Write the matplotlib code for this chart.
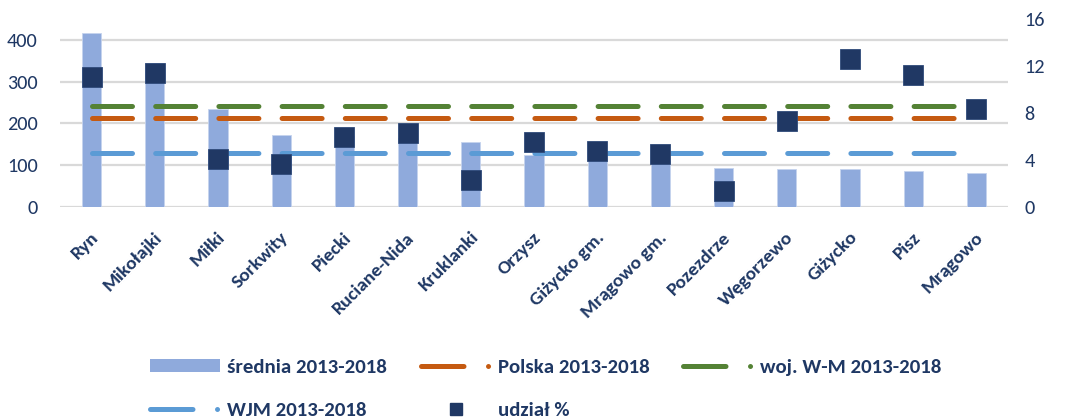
import matplotlib
matplotlib.use('Agg')
import matplotlib.pyplot as plt
from matplotlib.lines import Line2D
from matplotlib.patches import Patch
import matplotlib.transforms as mtransforms

# ---- data ----
categories = ["Ryn", "Mikołajki", "Miłki", "Sorkwity", "Piecki", "Ruciane-Nida",
              "Kruklanki", "Orzysz", "Giżycko gm.", "Mrągowo gm.", "Pozezdrze",
              "Węgorzewo", "Giżycko", "Pisz", "Mrągowo"]
srednia = [416, 344, 234, 173, 169, 166, 155, 125, 118, 110, 93, 90, 90, 85, 81]
udzial = [11.1, 11.4, 4.1, 3.7, 6.0, 6.3, 2.3, 5.5, 4.8, 4.5, 1.4, 7.3, 12.6, 11.2, 8.3]
polska_value = 212
woj_wm_value = 241
wjm_value = 129
left_ticks = [0, 100, 200, 300, 400]
right_ticks = [0, 4, 8, 12, 16]
legend_labels = ["średnia 2013-2018", "Polska 2013-2018", "woj. W-M 2013-2018",
                 "WJM 2013-2018", "udział %"]

# ---- styles ----
NAVY = '#1F3864'
BAR = '#8FAADC'
MARK = '#203864'
ORANGE = '#C55A11'
GREEN = '#548235'
LBLUE = '#5B9BD5'
GRID = '#D9D9D9'
FONT = ['Carlito', 'DejaVu Sans']

fig = plt.figure(figsize=(10.86, 4.17), dpi=100)
ax = fig.add_axes([60/1086, 1-207/417, 948/1086, 188/417])
ax2 = ax.twinx()

x = list(range(len(categories)))
ax.bar(x, srednia, width=0.305, color=BAR, edgecolor='#C5D3EE', linewidth=0.6, zorder=2)

LW = 3.6
dash = (0, (8.0, 4.64))
for val, col in [(woj_wm_value, GREEN), (polska_value, ORANGE), (wjm_value, LBLUE)]:
    ax.plot(x, [val]*len(x), color=col, lw=LW, linestyle=dash,
            dash_capstyle='round', zorder=3)

ax2.plot(x, udzial, linestyle='none', marker='s', markersize=14,
         color=MARK, markeredgecolor='#2F4A7A', markeredgewidth=0.6, zorder=5)

ax.set_xlim(-0.5, len(categories)-0.5)
ax.set_ylim(0, 450)
ax2.set_ylim(0, 16)
ax.set_yticks(left_ticks)
ax2.set_yticks(right_ticks)

for a in (ax, ax2):
    for s in a.spines.values():
        s.set_visible(False)
    a.tick_params(length=0)

ax.yaxis.grid(True, color=GRID, lw=1.6)
ax.set_axisbelow(True)

ax.tick_params(axis='y', pad=16, labelcolor=NAVY)
ax2.tick_params(axis='y', pad=12, labelcolor=NAVY)
for lab in ax.get_yticklabels() + ax2.get_yticklabels():
    lab.set_fontfamily(FONT)
    lab.set_fontsize(14.6)

ax.set_xticks(x)
ax.set_xticklabels(categories, rotation=45, ha='right', va='top',
                   fontfamily=FONT, fontweight='bold', fontsize=14, color=NAVY)
ax.tick_params(axis='x', pad=16)
offset = mtransforms.ScaledTranslation(10/100, 0, fig.dpi_scale_trans)
for lab in ax.get_xticklabels():
    lab.set_transform(lab.get_transform() + offset)

# ---- legend ----
leg_dash = (0, (8.5, 4.9, 0.01, 20))
handles = [
    Patch(facecolor=BAR, edgecolor='none'),
    Line2D([0], [0], color=LBLUE, lw=LW, linestyle=leg_dash, dash_capstyle='round'),
    Line2D([0], [0], color=ORANGE, lw=LW, linestyle=leg_dash, dash_capstyle='round'),
    Line2D([0], [0], color=MARK, lw=0, marker='s', markersize=8.6),
    Line2D([0], [0], color=GREEN, lw=LW, linestyle=leg_dash, dash_capstyle='round'),
]
labels = [legend_labels[0], legend_labels[3], legend_labels[1], legend_labels[4], legend_labels[2]]
leg = fig.legend(handles, labels, ncol=3, loc='upper left',
                 bbox_to_anchor=(150/1086, 1-359/417), frameon=False,
                 prop={'family': FONT, 'weight': 'bold', 'size': 15},
                 handlelength=3.37, handleheight=0.58, handletextpad=0.34,
                 columnspacing=1.6, labelspacing=1.25, borderpad=0, borderaxespad=0)
for t in leg.get_texts():
    t.set_color(NAVY)

fig.savefig('out.png', dpi=100, facecolor='white')
